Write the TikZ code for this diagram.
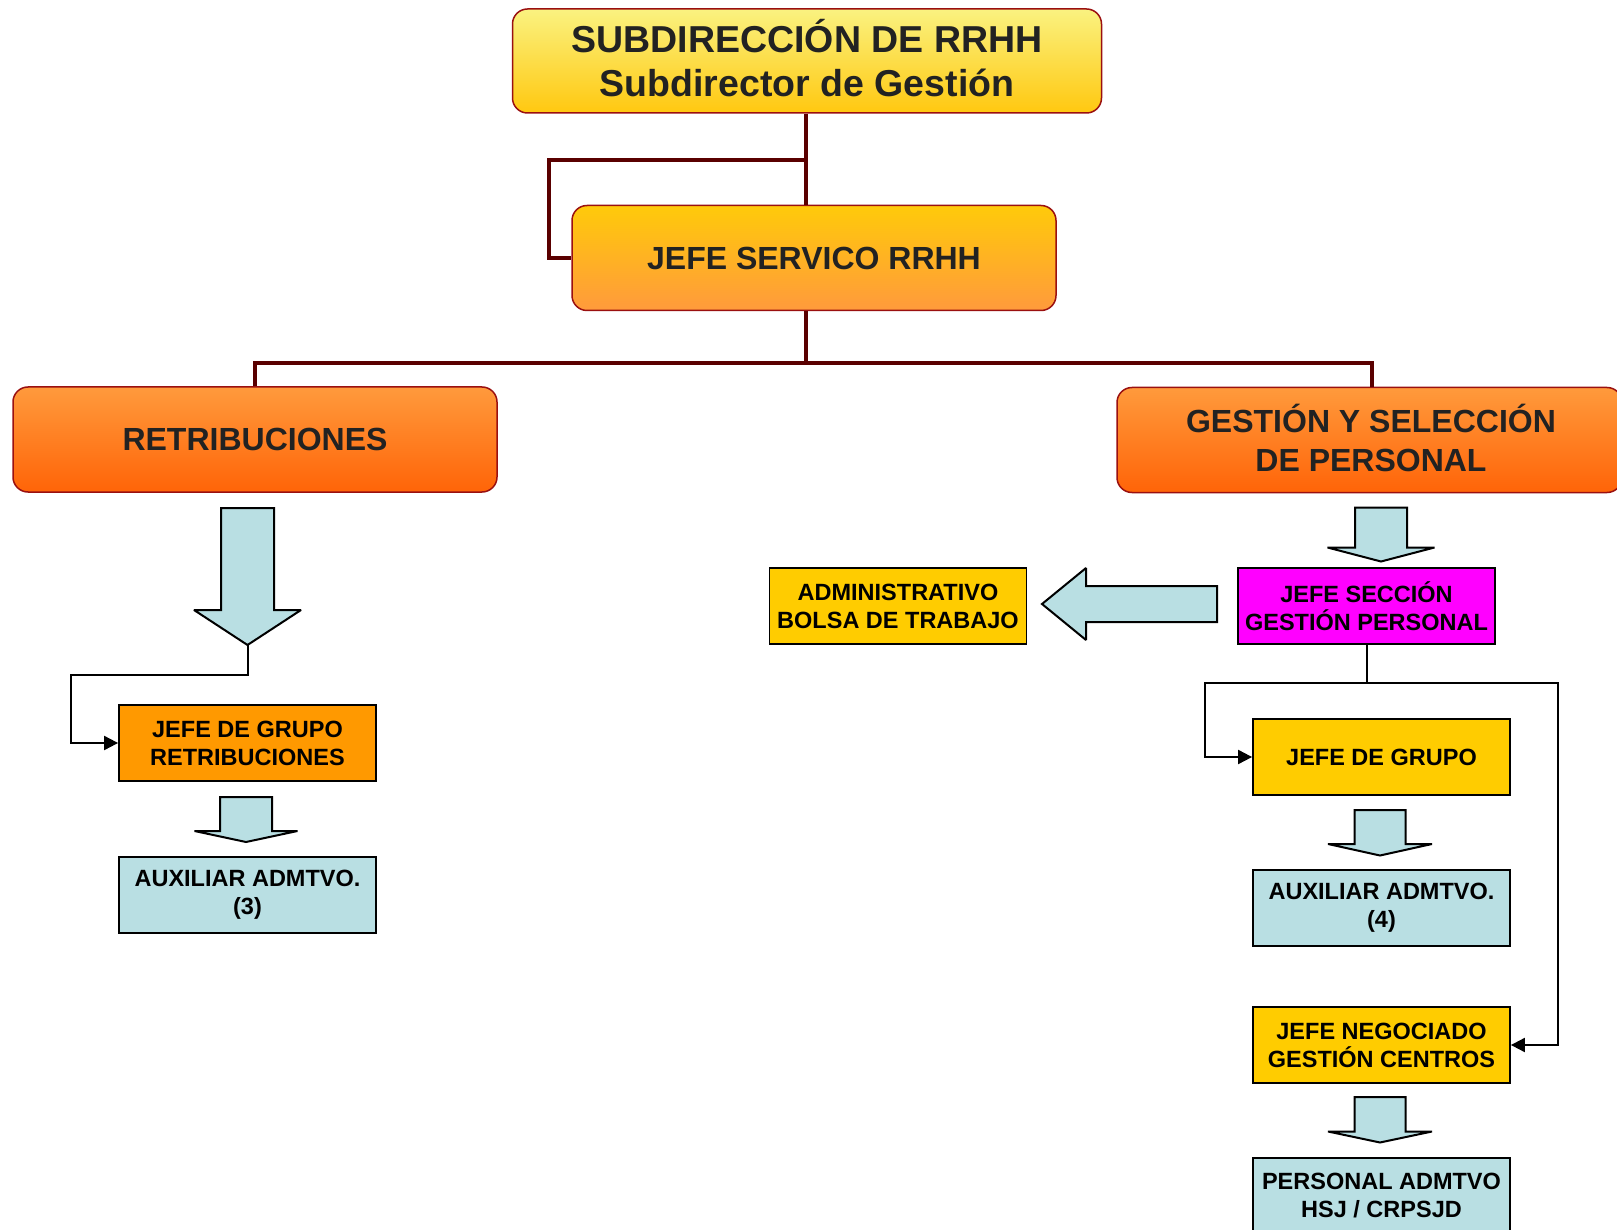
\documentclass[tikz,border=0pt]{standalone}
\usepackage{fontspec}
\setmainfont{Liberation Sans}
\usetikzlibrary{arrows.meta}

\definecolor{granate}{HTML}{5A0000}
\definecolor{bordeoscuro}{HTML}{9A1010}
\definecolor{textogris}{HTML}{222222}
\definecolor{amarilloclaro}{HTML}{FAF280}
\definecolor{oro}{HTML}{FFC810}
\definecolor{orojefe}{HTML}{FFCA0A}
\definecolor{naranja}{HTML}{FF9A3C}
\definecolor{naranjafuerte}{HTML}{FF6408}
\definecolor{naranjagrupo}{HTML}{FF9900}
\definecolor{amarillo}{HTML}{FFCC00}
\definecolor{fucsia}{HTML}{FF00FF}
\definecolor{celeste}{HTML}{B9DFE3}

% block arrow pointing down: centre x, top y, head y, tip y, half shaft, half head
\newcommand{\flechabaja}[6]{%
  \draw[bloque] ({#1-#5},#2) -- ({#1+#5},#2) -- ({#1+#5},#3) -- ({#1+#6},#3)
    -- (#1,#4) -- ({#1-#6},#3) -- ({#1-#5},#3) -- cycle;}

\begin{document}
\begin{tikzpicture}[x=1pt,y=-1pt,
  mando/.style={rectangle,rounded corners=15pt,draw=bordeoscuro,line width=1.5pt,
    inner sep=0pt,align=center,text=textogris},
  caja/.style={rectangle,draw=black,line width=1.8pt,inner sep=0pt,align=center,
    minimum width=257pt,minimum height=76pt,font=\bfseries\fontsize{23.5}{28}\selectfont},
  tronco/.style={draw=granate,line width=4.5pt},
  enlace/.style={draw=black,line width=2pt,-{Triangle[length=14pt,width=14pt]}},
  bloque/.style={draw=black,line width=2pt,fill=celeste,miter limit=2}]
\useasboundingbox (0,0) rectangle (1617,1230);

% top of the chart
\node[mando,minimum width=589pt,minimum height=104pt,top color=amarilloclaro,bottom color=oro,
  font=\bfseries\fontsize{37.5}{44}\selectfont] (sub) at (807,61) {};
\node[text=textogris,align=center,font=\bfseries\fontsize{37.5}{44}\selectfont] (subtexto)
  at (807,58) {SUBDIRECCIÓN DE RRHH\\Subdirector de Gestión};
\node[mando,minimum width=484pt,minimum height=105pt,top color=orojefe,bottom color=naranja,
  font=\bfseries\fontsize{32}{39}\selectfont] (jefe) at (814,258) {JEFE SERVICO RRHH};
\node[mando,minimum width=484pt,minimum height=105pt,top color=naranja,bottom color=naranjafuerte,
  font=\bfseries\fontsize{32}{39}\selectfont] (retrib) at (255,439.5) {RETRIBUCIONES};
\node[mando,minimum width=505pt,minimum height=105pt,top color=naranja,bottom color=naranjafuerte,
  font=\bfseries\fontsize{32}{39}\selectfont] (gestion) at (1369.5,440) {};
\node[text=textogris,align=center,font=\bfseries\fontsize{32}{39}\selectfont] (gestiontexto)
  at (1371,438) {GESTIÓN Y SELECCIÓN\\DE PERSONAL};

\coordinate (codo) at (549,160);
\coordinate (barra) at (806,363);
\coordinate (bajada) at (1372,363);
\draw[tronco] (sub.south -| barra) -- (jefe.north -| barra);
\draw[tronco] (codo -| barra) -- (codo) |- (jefe.west);
\draw[tronco] (jefe.south -| barra) -- (barra);
\draw[tronco] (retrib.north) |- (barra) -- (bajada) -- (bajada |- gestion.north);

% left branch
\node[caja,fill=naranjagrupo] (grupo1) at (247.5,743) {JEFE DE GRUPO\\RETRIBUCIONES};
\node[caja,fill=celeste] (aux3) at (247.5,895) {AUXILIAR ADMTVO.\\(3)};
\flechabaja{247.5}{508}{610}{645}{26.5}{53.5}
\flechabaja{246}{797}{831}{842}{26}{51.5}
\coordinate (puntaretrib) at (247.5,645);
\coordinate (quiebre1) at (71,675);
\draw[enlace] (puntaretrib) -- (puntaretrib |- quiebre1) -- (quiebre1) |- (grupo1.west);

% right branch
\node[caja,fill=amarillo] (admin) at (898,606) {ADMINISTRATIVO\\BOLSA DE TRABAJO};
\node[caja,fill=fucsia] (jefesec) at (1366.5,606) {JEFE SECCIÓN\\GESTIÓN PERSONAL};
\node[caja,fill=amarillo] (grupo2) at (1381.5,757) {JEFE DE GRUPO};
\node[caja,fill=celeste] (aux4) at (1381.5,908) {AUXILIAR ADMTVO.\\(4)};
\node[caja,fill=amarillo] (negociado) at (1381.5,1045) {JEFE NEGOCIADO\\GESTIÓN CENTROS};
\node[caja,fill=celeste] (personal) at (1381.5,1196) {PERSONAL ADMTVO\\HSJ / CRPSJD};
\flechabaja{1381}{507.5}{547.5}{561.5}{26}{53.5}
\flechabaja{1380}{810}{844}{855.5}{25.5}{52}
\flechabaja{1380}{1097}{1131.5}{1142.5}{25.5}{52}
\draw[bloque] (1217,586) -- (1086,586) -- (1086,568) -- (1042,604) -- (1086,640)
  -- (1086,622) -- (1217,622) -- cycle;
\coordinate (quiebre2) at (1205,683);
\coordinate (quiebre3) at (1558,683);
\draw[enlace] (jefesec.south) -- (jefesec.south |- quiebre2) -- (quiebre2) |- (grupo2.west);
\draw[enlace] (jefesec.south |- quiebre3) -- (quiebre3) |- (negociado.east);
\end{tikzpicture}
\end{document}
